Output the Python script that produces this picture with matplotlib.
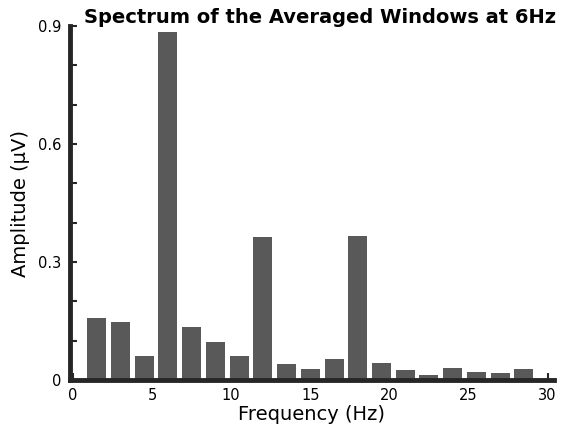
import matplotlib

matplotlib.use("Agg")
import matplotlib.pyplot as plt
import numpy as np

# spectrum bins (Hz) and amplitudes (uV)
freqs = [1.5, 3.0, 4.5, 6.0, 7.5, 9.0, 10.5, 12.0, 13.5, 15.0,
         16.5, 18.0, 19.5, 21.0, 22.5, 24.0, 25.5, 27.0, 28.5]
amps = [0.157, 0.147, 0.060, 0.885, 0.135, 0.097, 0.060, 0.364, 0.041, 0.027,
        0.053, 0.366, 0.043, 0.025, 0.012, 0.030, 0.020, 0.018, 0.028]
x_ticks = [0, 5, 10, 15, 20, 25, 30]
y_labeled = [0, 0.3, 0.6, 0.9]

axis_color = "#262626"
bar_color = "#595959"

fig = plt.figure(figsize=(5.64, 4.28), dpi=100)
ax = fig.add_axes([0.124, 0.112, 0.858, 0.827])

ax.bar(freqs, amps, width=1.2, color=bar_color, edgecolor="none", zorder=2)

ax.set_xlim(-0.2, 30.4)
ax.set_ylim(0, 0.9)

ax.set_xticks(x_ticks)
ax.set_xticklabels([str(t) for t in x_ticks])
y_ticks = np.round(np.arange(0, 0.91, 0.1), 1)
ax.set_yticks(y_ticks)
ax.set_yticklabels([f"{t:g}" if any(abs(t - v) < 1e-9 for v in y_labeled) else "" for t in y_ticks])

ax.tick_params(direction="in", length=5, width=1.5, color=axis_color,
               labelsize=10.5, pad=6)

for side in ("top", "right"):
    ax.spines[side].set_visible(False)
for side in ("left", "bottom"):
    ax.spines[side].set_linewidth(3.5)
    ax.spines[side].set_color(axis_color)

ax.set_xlabel("Frequency (Hz)", fontsize=14, labelpad=1)
ax.set_ylabel("Amplitude (\u03bcV)", fontsize=14, labelpad=6)
fig.text(0.568, 0.96, "Spectrum of the Averaged Windows at 6Hz",
         ha="center", va="center", fontsize=14, fontweight="bold")

fig.savefig("out.png", dpi=100, facecolor="white")
